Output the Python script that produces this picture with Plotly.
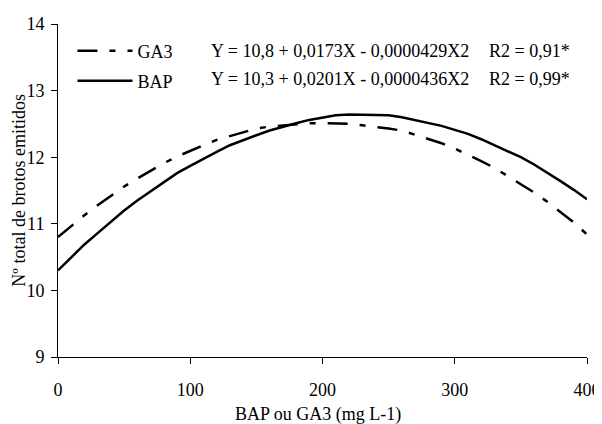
import plotly.graph_objects as go

dose = [0, 10, 20, 30, 40, 50, 60, 70, 80, 90, 100, 110, 120, 130, 140, 150, 160, 170, 180, 190,
        200, 210, 220, 230, 240, 250, 260, 270, 280, 290, 300, 310, 320, 330, 340, 350, 360, 370, 380, 390, 400]
ga3 = [10.80, 10.97, 11.13, 11.28, 11.42, 11.56, 11.68, 11.80, 11.91, 12.01, 12.10, 12.18, 12.26, 12.32,
       12.38, 12.43, 12.46, 12.48, 12.50, 12.51, 12.51, 12.51, 12.50, 12.48, 12.46, 12.43, 12.40, 12.34,
       12.28, 12.21, 12.13, 12.04, 11.94, 11.84, 11.72, 11.60, 11.47, 11.33, 11.18, 11.02, 10.84]
bap = [10.30, 10.50, 10.69, 10.86, 11.03, 11.20, 11.35, 11.49, 11.63, 11.76, 11.87, 11.98, 12.08, 12.18,
       12.26, 12.33, 12.40, 12.46, 12.51, 12.56, 12.60, 12.63, 12.64, 12.64, 12.64, 12.63, 12.60, 12.56,
       12.52, 12.47, 12.41, 12.35, 12.27, 12.18, 12.09, 12.00, 11.89, 11.77, 11.64, 11.51, 11.37]
x_ticks = [0, 100, 200, 300, 400]
y_ticks = [9, 10, 11, 12, 13, 14]
eq_ga3 = "Y = 10,8 + 0,0173X - 0,0000429X2"
eq_bap = "Y = 10,3 + 0,0201X - 0,0000436X2"
r2_ga3 = "R2 = 0,91*"
r2_bap = "R2 = 0,99*"
x_title = "BAP ou GA3 (mg L-1)"
y_title = "Nº total de brotos emitidos"

FONT = "Liberation Serif, Times New Roman, serif"
FS = 18

fig = go.Figure()
fig.add_trace(go.Scatter(x=dose, y=ga3, mode="lines", name="GA3",
                         line=dict(color="black", width=2.5, dash="20px,12px,6px,12px"),
                         legend="legend"))
fig.add_trace(go.Scatter(x=dose, y=bap, mode="lines", name="BAP",
                         line=dict(color="black", width=2.5),
                         legend="legend2"))

# page has an 8px body margin; figure is sized so the plot area lands where the reference has it
OFF = 8
PL, PR, PT, PB = 57.5, 586.7, 24, 356.7   # plot area in page pixels
W, H = 602 - OFF, 424 - OFF
L, T = PL - OFF, PT - OFF
R, B = W - (PR - OFF), H - (PB - OFF)
pw, ph = PR - PL, PB - PT

def px_x(p):
    return (p - PL) / pw

def px_y(p):
    return 1 - (p - PT) / ph

leg_common = dict(font=dict(family=FONT, size=FS, color="black"), bgcolor="rgba(0,0,0,0)",
                  itemwidth=55, xanchor="left", yanchor="middle", borderwidth=0)
fig.update_layout(
    width=W, height=H,
    margin=dict(l=L, r=R, t=T, b=B, autoexpand=False),
    paper_bgcolor="white", plot_bgcolor="white",
    font=dict(family=FONT, size=FS, color="black"),
    legend=dict(x=px_x(72), y=px_y(51), **leg_common),
    legend2=dict(x=px_x(72), y=px_y(81), **leg_common),
    xaxis=dict(range=[0, 400], tickvals=x_ticks, ticks="outside", ticklen=6, tickwidth=1,
               tickcolor="black", showline=True, linecolor="black", linewidth=1,
               showgrid=False, zeroline=False, tickfont=dict(family=FONT, size=FS),
               ticklabelstandoff=10),
    yaxis=dict(range=[9, 14], tickvals=y_ticks, ticks="outside", ticklen=6, tickwidth=1,
               tickcolor="black", showline=True, linecolor="black", linewidth=1,
               showgrid=False, zeroline=False, tickfont=dict(family=FONT, size=FS),
               ticklabelstandoff=3),
    showlegend=True,
)

ann = dict(xref="paper", yref="paper", showarrow=False, xanchor="left", yanchor="middle",
           font=dict(family=FONT, size=FS, color="black"))
fig.add_annotation(x=px_x(209), y=px_y(51), text=eq_ga3, **ann)
fig.add_annotation(x=px_x(209), y=px_y(79), text=eq_bap, **ann)
fig.add_annotation(x=px_x(487), y=px_y(51), text=r2_ga3, **ann)
fig.add_annotation(x=px_x(487), y=px_y(79), text=r2_bap, **ann)
fig.add_annotation(x=px_x(19), y=px_y(190), text=y_title, textangle=-90,
                   xref="paper", yref="paper", showarrow=False, xanchor="center", yanchor="middle",
                   font=dict(family=FONT, size=FS, color="black"))
fig.add_annotation(x=px_x(318), y=px_y(414), text=x_title,
                   xref="paper", yref="paper", showarrow=False, xanchor="center", yanchor="middle",
                   font=dict(family=FONT, size=FS, color="black"))

fig.write_html("out.html")
